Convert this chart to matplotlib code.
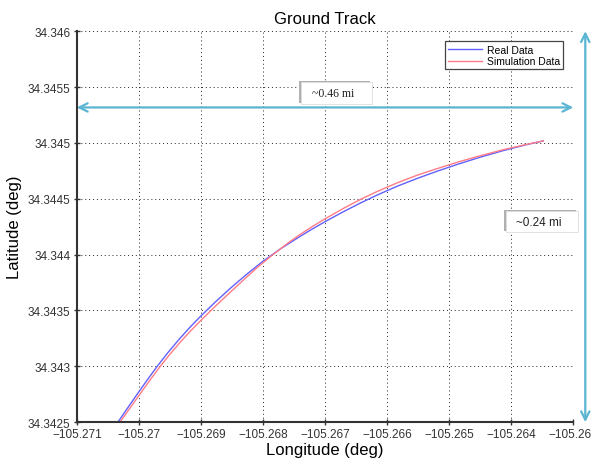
import matplotlib.pyplot as plt
from matplotlib.patches import Rectangle
from matplotlib.ticker import FuncFormatter, MultipleLocator

plt.rcParams['font.family'] = ['Liberation Sans', 'DejaVu Sans']

# ground track
real_lon = [-105.270339, -105.270177, -105.270016, -105.269855, -105.269694,
            -105.269532, -105.269355, -105.269177, -105.269000, -105.268774,
            -105.268532, -105.268274, -105.268000, -105.267710, -105.267403,
            -105.267210, -105.266952, -105.266677, -105.266419, -105.266161,
            -105.265839, -105.265516, -105.265177, -105.264839, -105.264500,
            -105.264129, -105.263742, -105.263484]
real_lat = [34.342500, 34.342631, 34.342760, 34.342886, 34.343008,
            34.343123, 34.343240, 34.343350, 34.343451, 34.343573,
            34.343696, 34.343819, 34.343941, 34.344055, 34.344163,
            34.344228, 34.344310, 34.344392, 34.344465, 34.344533,
            34.344612, 34.344682, 34.344750, 34.344813, 34.344872,
            34.344931, 34.344986, 34.345018]

sim_lon = [-105.270306, -105.270145, -105.269984, -105.269823, -105.269661,
           -105.269500, -105.269339, -105.269177, -105.269000, -105.268774,
           -105.268532, -105.268274, -105.268081, -105.267887, -105.267597,
           -105.267403, -105.267210, -105.266952, -105.266677, -105.266419,
           -105.266161, -105.265839, -105.265516, -105.265177, -105.264839,
           -105.264500, -105.264129, -105.263742, -105.263484]
sim_lat = [34.342500, 34.342625, 34.342751, 34.342875, 34.342996,
           34.343108, 34.343213, 34.343311, 34.343412, 34.343535,
           34.343661, 34.343794, 34.343890, 34.343979, 34.344104,
           34.344180, 34.344250, 34.344336, 34.344422, 34.344497,
           34.344565, 34.344642, 34.344711, 34.344773, 34.344832,
           34.344885, 34.344939, 34.344988, 34.345018]

series_names = ['Real Data', 'Simulation Data']
span_labels = ['~0.46 mi', '~0.24 mi']

xlim = (-105.271, -105.263)
ylim = (34.3425, 34.346)

fig = plt.figure(figsize=(5.91, 4.60), dpi=100)
ax = fig.add_axes([0.130, 0.080, 0.840, 0.850])

ax.plot(real_lon, real_lat, color='#6060ff', lw=1.0, label=series_names[0])
ax.plot(sim_lon, sim_lat, color='#ff7c86', lw=1.0, label=series_names[1])

ax.set_xlim(xlim)
ax.set_ylim(ylim)
ax.xaxis.set_major_locator(MultipleLocator(0.001))
ax.yaxis.set_major_locator(MultipleLocator(0.0005))
fmt = FuncFormatter(lambda v, p: ('%.7g' % v).replace('-', '\u2212'))
ax.xaxis.set_major_formatter(fmt)
ax.yaxis.set_major_formatter(fmt)

ax.grid(True, color='#222222', linestyle=(0, (1, 3)), lw=0.7)
for s in ['top', 'right']:
    ax.spines[s].set_visible(False)
for s in ['left', 'bottom']:
    ax.spines[s].set_color('#333333')
    ax.spines[s].set_linewidth(1.5)
ax.tick_params(direction='inout', length=5, width=1, colors='#333333',
               labelsize=8.5, labelcolor='#333333', pad=2)

ax.set_title('Ground Track', fontsize=12, pad=6)
ax.set_xlabel('Longitude (deg)', fontsize=12, labelpad=1)
ax.set_ylabel('Latitude (deg)', fontsize=12, labelpad=4)

leg = ax.legend(loc='upper right', fontsize=7.5, fancybox=False, framealpha=1,
                edgecolor='#444444', handlelength=3.2, borderpad=0.3,
                labelspacing=0.15, handletextpad=0.5,
                bbox_to_anchor=(0.99, 0.987))
leg.get_frame().set_linewidth(0.9)

# span arrows
arrow_col = '#5ab4d2'
ax.annotate('', xy=(0.0, 0.805), xytext=(1.0, 0.805), xycoords='axes fraction',
            arrowprops=dict(arrowstyle='<->,head_length=0.6,head_width=0.3',
                            color=arrow_col, lw=1.6, shrinkA=0, shrinkB=0),
            annotation_clip=False)
ax.annotate('', xy=(1.0242, 1.0), xytext=(1.0242, 0.0), xycoords='axes fraction',
            arrowprops=dict(arrowstyle='<->,head_length=0.6,head_width=0.3',
                            color=arrow_col, lw=1.6, shrinkA=0, shrinkB=0),
            annotation_clip=False)

# label boxes with a soft shadow on the upper left
boxes = [(0.4516, 0.8133, 0.1432, 0.0563, 'Liberation Serif'),
         (0.8650, 0.4860, 0.1450, 0.0536, 'Liberation Sans')]
for (bx, by, bw, bh, fam), txt in zip(boxes, span_labels):
    ax.add_patch(Rectangle((bx - 0.005, by + 0.002), bw, bh, transform=ax.transAxes,
                           facecolor='#b0b0b0', edgecolor='none', clip_on=False,
                           zorder=4))
    ax.add_patch(Rectangle((bx, by), bw, bh, transform=ax.transAxes,
                           facecolor='white', edgecolor='#dddddd', lw=0.6,
                           clip_on=False, zorder=5))
    ax.text(bx + bw * 0.45, by + bh / 2, txt, transform=ax.transAxes,
            ha='center', va='center', fontsize=8.5, family=fam,
            color='#222222', zorder=6)

fig.savefig('out.png', dpi=100)
